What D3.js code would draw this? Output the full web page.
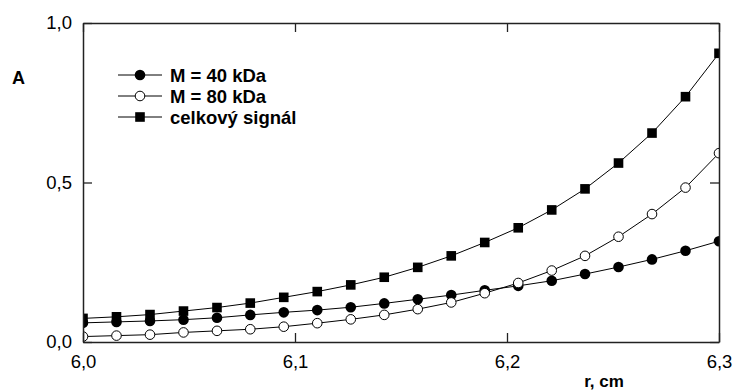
<!DOCTYPE html>
<html>
<head>
<meta charset="utf-8">
<script src="https://cdn.jsdelivr.net/npm/d3@7"></script>
<style>
  body { margin: 0; background: #fff; }
  svg { display: block; font-family: "Liberation Sans", Arial, sans-serif; }
</style>
</head>
<body>
<div class="container"></div>
<script>
const w = 734;
const h = 390;

// radius positions, cm (20 equally spaced readings)
const radius = [6.0, 6.0158, 6.0316, 6.0474, 6.0632, 6.0789, 6.0947, 6.1105, 6.1263, 6.1421,
                6.1579, 6.1737, 6.1895, 6.2053, 6.2211, 6.2368, 6.2526, 6.2684, 6.2842, 6.3];
const absM40 = [0.060, 0.063, 0.066, 0.070, 0.076, 0.085, 0.093, 0.100, 0.109, 0.121,
                0.134, 0.147, 0.162, 0.176, 0.192, 0.213, 0.235, 0.259, 0.286, 0.316];
const absM80 = [0.017, 0.020, 0.023, 0.030, 0.035, 0.040, 0.048, 0.059, 0.071, 0.085,
                0.103, 0.124, 0.153, 0.185, 0.224, 0.270, 0.330, 0.401, 0.484, 0.592];
const absTotal = [0.074, 0.079, 0.086, 0.097, 0.108, 0.122, 0.140, 0.158, 0.179, 0.203,
                  0.234, 0.270, 0.312, 0.358, 0.414, 0.480, 0.561, 0.655, 0.769, 0.905];
const xTicks = [6.0, 6.1, 6.2, 6.3];
const yTicks = [0.0, 0.5, 1.0];
const legendLabels = ['M = 40 kDa', 'M = 80 kDa', 'celkový signál'];

const plot = { left: 83, right: 719, top: 23, bottom: 342 };

const x = d3.scaleLinear().domain([6.0, 6.3]).range([plot.left, plot.right]);
const y = d3.scaleLinear().domain([0, 1]).range([plot.bottom, plot.top]);

const czech = d3.formatLocale({ decimal: ',', thousands: ' ', grouping: [3], currency: ['', ''] });
const fmt = czech.format('.1f');

const svg = d3.select('.container')
    .append('svg')
    .attr('width', w)
    .attr('height', h)
    .attr('viewBox', [0, 0, w, h]);

svg.append('clipPath')
    .attr('id', 'clip')
    .append('rect')
    .attr('x', plot.left)
    .attr('y', plot.top)
    .attr('width', plot.right - plot.left)
    .attr('height', plot.bottom - plot.top);

const series = [
    { values: absTotal, shape: 'square', fill: '#000' },
    { values: absM40, shape: 'circle', fill: '#000' },
    { values: absM80, shape: 'circle', fill: '#fff' }
];

const line = d3.line()
    .x(d => x(d[0]))
    .y(d => y(d[1]));

const plotG = svg.append('g').attr('clip-path', 'url(#clip)');

function drawMarker(g, shape, fill, cx, cy) {
    if (shape === 'square') {
        g.append('rect')
            .attr('x', cx - 4.8)
            .attr('y', cy - 4.8)
            .attr('width', 9.6)
            .attr('height', 9.6)
            .attr('fill', fill);
    } else {
        g.append('circle')
            .attr('cx', cx)
            .attr('cy', cy)
            .attr('r', fill === '#fff' ? 4.8 : 5.3)
            .attr('fill', fill)
            .attr('stroke', '#000')
            .attr('stroke-width', fill === '#fff' ? 1 : 0);
    }
}

series.forEach(s => {
    const pts = radius.map((r, i) => [r, s.values[i]]);
    const g = plotG.append('g');
    g.append('path')
        .attr('d', line(pts))
        .attr('fill', 'none')
        .attr('stroke', '#000')
        .attr('stroke-width', 1);
    pts.forEach(p => drawMarker(g, s.shape, s.fill, x(p[0]), y(p[1])));
});

// frame with inward ticks
const axisColor = '#222';
const styleAxis = g => {
    g.select('.domain').attr('stroke', axisColor).attr('stroke-width', 1.5);
    g.selectAll('.tick line').attr('stroke', axisColor).attr('stroke-width', 1.3);
    g.selectAll('.tick text').attr('fill', '#000').style('font-size', '18.5px');
};

svg.append('g')
    .attr('transform', `translate(0, ${plot.bottom})`)
    .call(d3.axisBottom(x).tickValues(xTicks).tickFormat(fmt).tickSize(-9).tickSizeOuter(0).tickPadding(13))
    .call(styleAxis);

svg.append('g')
    .attr('transform', `translate(0, ${plot.top})`)
    .call(d3.axisTop(x).tickValues(xTicks).tickFormat('').tickSize(-9).tickSizeOuter(0))
    .call(styleAxis);

svg.append('g')
    .attr('transform', `translate(${plot.left}, 0)`)
    .call(d3.axisLeft(y).tickValues(yTicks).tickFormat(fmt).tickSize(-9).tickSizeOuter(0).tickPadding(11))
    .call(styleAxis);

svg.append('g')
    .attr('transform', `translate(${plot.right}, 0)`)
    .call(d3.axisRight(y).tickValues(yTicks).tickFormat('').tickSize(-9).tickSizeOuter(0))
    .call(styleAxis);

// axis titles
svg.append('text')
    .attr('x', 12)
    .attr('y', 84)
    .style('font-size', '18px')
    .style('font-weight', 'bold')
    .text('A');

svg.append('text')
    .attr('x', 604)
    .attr('y', 387)
    .attr('text-anchor', 'middle')
    .style('font-size', '17px')
    .style('font-weight', 'bold')
    .text('r, cm');

// legend
const legendSeries = [series[1], series[2], series[0]];
const legendRowY = [75, 96, 117];
legendSeries.forEach((s, i) => {
    const g = svg.append('g');
    const ly = legendRowY[i];
    g.append('line')
        .attr('x1', 118).attr('x2', 162)
        .attr('y1', ly).attr('y2', ly)
        .attr('stroke', '#000')
        .attr('stroke-width', 1);
    drawMarker(g, s.shape, s.fill, 140, ly);
    g.append('text')
        .attr('x', 170)
        .attr('y', ly)
        .attr('dy', '0.36em')
        .style('font-size', '18.5px')
        .style('font-weight', 'bold')
        .text(legendLabels[i]);
});
</script>
</body>
</html>
